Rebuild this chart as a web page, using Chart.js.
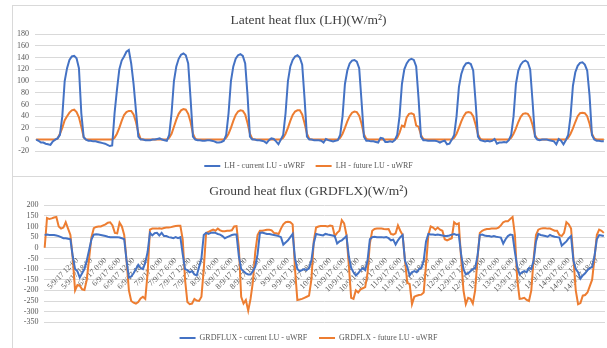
<!DOCTYPE html>
<html><head><meta charset="utf-8">
<script src="https://cdn.jsdelivr.net/npm/chart.js@4.4.1/dist/chart.umd.min.js"></script>
<style>
html,body{margin:0;padding:0;background:#fff;overflow:hidden;width:607px;height:348px;position:relative;}
.panel{position:absolute;border:1px solid #d9d9d9;box-sizing:border-box;}
.cv{position:absolute;}
</style></head><body>
<div class="panel" style="left:12px;top:5px;width:600px;height:172px"></div>
<div class="panel" style="left:12px;top:176px;width:600px;height:200px"></div>
<div class="cv" style="left:12px;top:5px;width:600px;height:175px"><canvas id="c1" width="600" height="175"></canvas></div>
<div class="cv" style="left:12px;top:176px;width:600px;height:176px"><canvas id="c2" width="600" height="176"></canvas></div>
<script>
// ---- categories: hourly time stamps (240 points) ----
const startDay = 4, startHour = 22, nPoints = 240;
const categories = [];
for (let i = 0; i < nPoints; i++) {
  const h = startHour + i;
  categories.push((startDay + Math.floor(h / 24)) + '/9/17 ' + (h % 24) + ':00');
}
// tick labels shown on the GRDFLX time axis
const tickLabels = [
'5/9/17 12:00','5/9/17 18:00','6/9/17 0:00','6/9/17 6:00','6/9/17 12:00','6/9/17 18:00',
'7/9/17 0:00','7/9/17 6:00','7/9/17 12:00','7/9/17 18:00','8/9/17 0:00','8/9/17 6:00',
'8/9/17 12:00','8/9/17 18:00','9/9/17 0:00','9/9/17 6:00','9/9/17 12:00','9/9/17 18:00',
'10/9/17 0:00','10/9/17 6:00','10/9/17 12:00','10/9/17 18:00','11/9/17 0:00','11/9/17 6:00',
'11/9/17 12:00','11/9/17 18:00','12/9/17 0:00','12/9/17 6:00','12/9/17 12:00','12/9/17 18:00',
'13/9/17 0:00','13/9/17 6:00','13/9/17 12:00','13/9/17 18:00','14/9/17 0:00','14/9/17 6:00',
'14/9/17 12:00','14/9/17 18:00'];

const lhTicks = [-20, 0, 20, 40, 60, 80, 100, 120, 140, 160, 180];
const grdTicks = [-350, -300, -250, -200, -150, -100, -50, 0, 50, 100, 150, 200];

const lhCurrent = [
0,-2,-5,-5,-7,-8,-9,-3,0,2,8,40,100,122,136,142,143,139,122,45,4,0,-2,-2,
-3,-3,-4,-5,-6,-7,-9,-11,-10,45,85,120,135,142,150,153,130,95,50,5,0,0,-1,-1,
-1,0,0,1,2,0,-1,-2,8,45,100,125,138,145,147,144,130,70,5,0,-1,-1,-2,-2,
-1,-1,-2,-3,-5,-5,-4,-2,8,45,100,125,138,144,146,143,130,75,5,0,0,-1,-1,-2,
-3,-6,-1,2,1,-3,-8,0,8,45,100,125,136,142,144,140,128,70,5,0,0,-1,-1,-1,
-2,-5,1,-1,-2,-3,-2,-1,8,40,95,118,130,135,136,133,122,65,5,-2,-2,-3,-3,-4,
-5,3,2,-4,-4,-3,-4,-1,8,40,95,120,130,136,138,136,125,70,5,-1,-1,-2,-2,-2,
-2,-3,-5,-3,-2,-8,-7,0,8,40,90,112,124,130,131,129,118,65,5,-1,-2,-3,-2,-3,
-2,1,-7,-5,-5,-4,-5,-1,8,40,95,118,128,133,135,132,120,65,5,0,-1,0,0,0,
-1,-2,-3,-8,1,-2,-8,-1,8,40,92,115,126,131,132,128,118,75,8,0,-2,-2,-3,-3
];
const lhFuture = [
0,0,0,0,0,0,0,0,0,2,10,20,33,40,46,50,51,47,38,22,4,0,0,0,
0,0,0,0,0,0,0,0,0,3,10,20,32,42,47,49,49,43,30,12,1,0,0,0,
0,0,0,0,0,0,0,0,3,10,22,34,44,50,52,51,44,30,10,1,0,0,0,0,
0,0,0,0,0,0,0,0,3,10,20,32,42,48,50,49,43,28,10,1,0,0,0,0,
0,0,0,0,0,0,0,0,3,10,20,32,42,48,50,50,43,28,10,1,0,0,0,0,
0,0,0,0,0,0,0,0,3,10,20,31,40,46,48,47,41,27,9,1,0,0,0,0,
0,0,0,0,0,0,0,0,3,12,24,22,38,44,45,43,24,22,8,1,0,0,0,0,
0,0,0,0,0,0,0,0,3,10,20,31,40,46,47,46,40,26,9,1,0,0,0,0,
0,0,0,0,0,0,0,0,3,10,19,30,39,44,45,44,38,25,8,1,0,0,0,0,
0,0,0,0,0,0,0,0,3,10,19,30,40,45,46,45,40,27,10,2,0,0,0,0
];
const grdCurrent = [
60,62,60,60,60,58,55,50,45,45,42,40,-40,-100,-110,-140,-120,-100,-60,-10,40,62,63,62,
60,58,55,52,50,50,50,50,48,45,40,-60,-140,-135,-120,-100,-80,-95,-100,-70,-20,70,58,68,
70,58,70,55,55,50,48,45,50,45,50,-30,-100,-105,-115,-110,-125,-130,-90,-50,60,70,65,70,
72,70,65,62,55,45,50,55,60,62,62,-40,-100,-110,-120,-125,-125,-110,-90,-30,70,72,68,65,
65,62,60,58,55,50,15,25,35,50,65,-50,-100,-110,-105,-100,-105,-95,-60,20,65,62,60,58,
65,62,60,58,55,20,30,35,45,55,-40,-95,-115,-130,-120,-105,-95,-105,-60,40,50,52,50,50,
50,48,50,45,35,38,15,35,50,60,-60,-90,-130,-115,-110,-115,-100,-95,-60,30,65,62,62,60,
62,60,58,55,55,58,62,65,60,62,-30,-100,-125,-120,-110,-100,-95,-40,60,62,58,55,55,52,
55,52,50,48,20,40,55,62,60,-20,-90,-125,-115,-110,-115,-95,-100,-60,30,65,60,58,55,52,
60,55,52,50,48,10,20,30,45,55,-60,-100,-115,-145,-130,-120,-105,-95,-90,-40,40,60,58,55
];
const grdFuture = [
0,140,135,138,142,145,100,90,95,120,90,60,-50,-200,-175,-178,-195,-198,-150,-50,50,92,98,100,
100,105,110,118,120,105,70,68,118,100,60,-60,-200,-250,-258,-262,-255,-238,-230,-240,-120,85,90,90,
90,92,90,93,95,95,97,100,102,103,103,40,-150,-255,-265,-262,-240,-248,-250,-230,-100,70,75,80,
85,80,90,82,78,78,80,80,82,100,102,0,-230,-262,-245,-295,-240,-160,-20,60,80,80,82,85,
85,82,70,68,65,90,110,120,122,120,110,-100,-245,-243,-240,-235,-230,-225,-150,30,95,100,102,102,
102,100,104,102,55,70,80,130,115,60,-80,-235,-240,-200,-210,-195,-190,-185,-120,20,80,88,90,90,
90,88,87,88,65,62,68,105,80,60,-60,-165,-170,-265,-230,-225,-222,-220,-210,-80,60,100,95,85,
95,85,80,40,35,40,45,120,110,115,-50,-200,-265,-235,-240,-262,-200,-50,70,80,85,88,88,90,
90,90,95,105,120,125,125,135,145,60,-150,-240,-238,-235,-245,-250,-200,-50,60,85,90,92,92,90,
90,85,80,80,60,55,70,120,110,90,-50,-200,-265,-260,-225,-222,-210,-180,-150,-50,60,85,80,70
];

// ---- styling ----
const BLUE = '#4472C4', ORANGE = '#ED7D31', GRID = '#d9d9d9', TXT = '#595959';
const SERIF = "'Liberation Serif', 'DejaVu Serif', serif";
Chart.defaults.font.family = SERIF;
Chart.defaults.color = TXT;

function lineDS(label, data, color) {
  return { label, data, borderColor: color, backgroundColor: color, borderWidth: 2,
    pointRadius: 0, pointHoverRadius: 0, pointStyle: 'line', tension: 0, fill: false };
}
function commonPlugins(title, legendPad) {
  return {
    title: { display: true, text: title, color: '#404040',
      font: { family: SERIF, size: 13.5, weight: 'normal', lineHeight: 1.2 },
      padding: { top: 7, bottom: 6 } },
    legend: { position: 'bottom',
      labels: { usePointStyle: true, pointStyleWidth: 16, padding: legendPad,
        font: { family: SERIF, size: 8 }, color: TXT } },
    tooltip: { enabled: false }
  };
}

new Chart(document.getElementById('c1'), {
  type: 'line',
  data: { labels: categories, datasets: [
    lineDS('LH - current LU - uWRF', lhCurrent, BLUE),
    lineDS('LH - future LU - uWRF', lhFuture, ORANGE) ] },
  options: {
    responsive: false, animation: false, devicePixelRatio: 1,
    layout: { padding: { left: 0, right: 7, top: 0, bottom: 0 } },
    plugins: commonPlugins('Latent heat flux (LH)(W/m\u00B2)', 10.7),
    scales: {
      x: { display: false, offset: true },
      y: { min: lhTicks[0], max: lhTicks[lhTicks.length - 1],
        afterBuildTicks: s => { s.ticks = lhTicks.map(v => ({ value: v })); },
        afterFit: s => { s.width = 23; },
        grid: { color: GRID, lineWidth: 1, drawTicks: false },
        border: { display: false },
        ticks: { autoSkip: false, padding: 6, font: { family: SERIF, size: 8 }, color: TXT } }
    }
  }
});

new Chart(document.getElementById('c2'), {
  type: 'line',
  data: { labels: categories, datasets: [
    lineDS('GRDFLUX - current LU - uWRF', grdCurrent, BLUE),
    lineDS('GRDFLX - future LU - uWRF', grdFuture, ORANGE) ] },
  options: {
    responsive: false, animation: false, devicePixelRatio: 1,
    layout: { padding: { left: 0, right: 7, top: 0, bottom: 0 } },
    plugins: commonPlugins('Ground heat flux (GRDFLX)(W/m\u00B2)', 11.7),
    scales: {
      x: { position: { y: 0 }, offset: true,
        afterFit: s => { s.height = 0; },
        grid: { display: false, drawTicks: false },
        border: { display: false },
        ticks: { autoSkip: false, maxRotation: 45, minRotation: 45, padding: 8,
          font: { family: SERIF, size: 8 }, color: TXT,
          callback: (v, i) => (tickLabels.includes(categories[i]) ? categories[i] : null) } },
      y: { min: grdTicks[0], max: grdTicks[grdTicks.length - 1],
        afterBuildTicks: s => { s.ticks = grdTicks.map(v => ({ value: v })); },
        afterFit: s => { s.width = 31.5; },
        grid: { color: GRID, lineWidth: 1, drawTicks: false },
        border: { display: false },
        ticks: { autoSkip: false, padding: 5, font: { family: SERIF, size: 8 }, color: TXT } }
    }
  }
});
</script>
</body></html>
